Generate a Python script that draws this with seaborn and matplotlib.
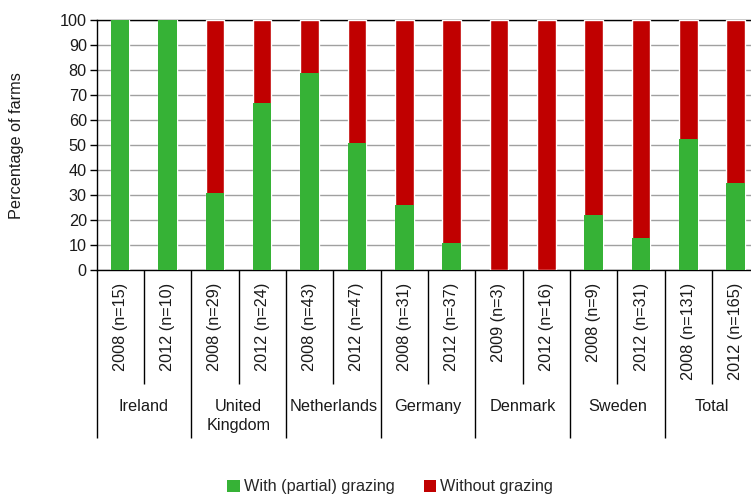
import matplotlib
matplotlib.use("Agg")
import matplotlib.pyplot as plt
import matplotlib.transforms as mtransforms
from matplotlib.patches import Patch
import seaborn as sns
import pandas as pd

# ---- data ----
countries = ["Ireland", "United\nKingdom", "Netherlands", "Germany", "Denmark", "Sweden", "Total"]
bar_labels = ["2008 (n=15)", "2012 (n=10)", "2008 (n=29)", "2012 (n=24)",
              "2008 (n=43)", "2012 (n=47)", "2008 (n=31)", "2012 (n=37)",
              "2009 (n=3)", "2012 (n=16)", "2008 (n=9)", "2012 (n=31)",
              "2008 (n=131)", "2012 (n=165)"]
with_grazing = [100, 100, 31, 67, 79, 51, 26, 11, 0, 0, 22, 13, 52.5, 35]
without_grazing = [0, 0, 69, 33, 21, 49, 74, 89, 100, 100, 78, 87, 47.5, 65]
y_ticks = list(range(0, 101, 10))

GREEN = "#36b236"
RED = "#c00000"

sns.set_theme(style="white")
plt.rcParams["font.family"] = ["Liberation Sans Narrow", "Liberation Sans", "DejaVu Sans"]
plt.rcParams["font.size"] = 11.7

df = pd.DataFrame({
    "label": bar_labels,
    "with": with_grazing,
    "total": [a + b for a, b in zip(with_grazing, without_grazing)],
})

W, H = 751, 496
fig = plt.figure(figsize=(W / 100, H / 100), dpi=100)
ax_left, ax_right_px = 96.5, 96.5 + 14 * 47.35
ax_top, ax_bottom = 20.5, 270
ax = fig.add_axes([ax_left / W, 1 - ax_bottom / H, (ax_right_px - ax_left) / W, (ax_bottom - ax_top) / H])

sns.barplot(data=df, x="label", y="total", color=RED, width=0.39, saturation=1, ax=ax, zorder=3)
sns.barplot(data=df, x="label", y="with", color=GREEN, width=0.39, saturation=1, ax=ax, zorder=4,
            linewidth=0)

n = len(bar_labels)
ax.set_xlim(-0.5, n - 0.5)
ax.set_ylim(0, 100)
ax.set_yticks(y_ticks)
ax.set_yticklabels([str(t) for t in y_ticks], fontsize=11.7, color="#1a1a1a")
ax.yaxis.grid(True, color="#a0a0a0", linewidth=1, zorder=0)
ax.set_axisbelow(True)
for s in ["left", "bottom", "top"]:
    ax.spines[s].set_visible(True)
    ax.spines[s].set_color("black")
    ax.spines[s].set_linewidth(1)
ax.spines["right"].set_visible(False)
ax.tick_params(axis="y", direction="out", length=5, width=1, color="black", pad=2, left=True)

ax.set_xticks(range(n))
ax.set_xticklabels(bar_labels, rotation=90, va="top", ha="center", fontsize=11.7, color="#1a1a1a")
ax.tick_params(axis="x", length=0, pad=9)
ax.set_xlabel("")
ax.set_ylabel("Percentage of farms", fontsize=11.7, color="#1a1a1a")
ax.yaxis.set_label_coords((24 - ax_left) / (ax_right_px - ax_left), 0.5)

# separators below axis
trans = mtransforms.blended_transform_factory(ax.transData, ax.transAxes)
ax_h = ax_bottom - ax_top
inner_len = (384 - ax_bottom) / ax_h
group_len = (438 - ax_bottom) / ax_h
for i in range(n + 1):
    xb = i - 0.5
    length = group_len if i % 2 == 0 else inner_len
    ax.plot([xb, xb], [0, -length], transform=trans, color="black", linewidth=1,
            clip_on=False, solid_capstyle="butt")

# group labels
for g, name in enumerate(countries):
    ax.text(2 * g + 0.5, -(399 - ax_bottom) / ax_h, name, transform=trans, ha="center", va="top",
            fontsize=11.7, linespacing=1.35, color="#1a1a1a")

handles = [Patch(facecolor=GREEN, edgecolor="none", label="With (partial) grazing"),
           Patch(facecolor=RED, edgecolor="none", label="Without grazing")]
fig.legend(handles=handles, loc="center", bbox_to_anchor=(390 / W, 1 - 487 / H), ncol=2,
           frameon=False, fontsize=11.7, handlelength=0.75, handleheight=0.75,
           handletextpad=0.25, columnspacing=1.8, borderaxespad=0)

fig.savefig("out.png", dpi=100)
